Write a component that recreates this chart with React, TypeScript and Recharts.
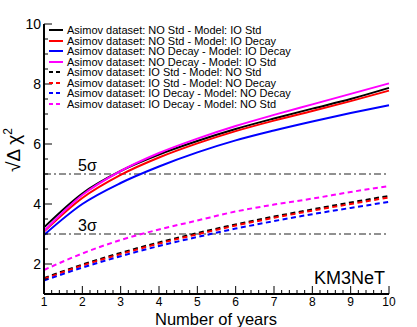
import React from "react";
import {
  LineChart,
  Line,
  XAxis,
  YAxis,
  ReferenceLine,
} from "recharts";

// Years on the x axis
const years = [1, 2, 3, 4, 5, 6, 7, 8, 9, 10];

// sqrt(Δχ²), one array per curve
const noStdIoStd = [3.22, 4.35, 5.1, 5.65, 6.1, 6.5, 6.85, 7.18, 7.5, 7.87];
const noStdIoDecay = [3.08, 4.2, 4.97, 5.55, 6.02, 6.43, 6.78, 7.1, 7.43, 7.78];
const noDecayIoDecay = [2.97, 4.0, 4.7, 5.25, 5.72, 6.12, 6.45, 6.75, 7.03, 7.29];
const noDecayIoStd = [3.1, 4.3, 5.1, 5.7, 6.18, 6.6, 6.97, 7.32, 7.67, 8.02];
const ioStdNoStd = [1.53, 1.98, 2.37, 2.72, 3.03, 3.32, 3.58, 3.82, 4.05, 4.27];
const ioStdNoDecay = [1.5, 1.95, 2.33, 2.68, 2.99, 3.28, 3.54, 3.78, 4.0, 4.22];
const ioDecayNoDecay = [1.45, 1.88, 2.26, 2.6, 2.9, 3.18, 3.43, 3.66, 3.87, 4.07];
const ioDecayNoStd = [1.8, 2.35, 2.8, 3.15, 3.45, 3.75, 3.98, 4.18, 4.4, 4.6];

// tick labels
const xLabels = [1, 2, 3, 4, 5, 6, 7, 8, 9, 10];
const yLabels = [2, 4, 6, 8, 10];

const xTicks: number[] = [];
for (let i = 0; i <= 45; i++) xTicks.push(Math.round((1 + i * 0.2) * 10) / 10);
const yTicks: number[] = [];
for (let i = 0; i <= 18; i++) yTicks.push(1 + i * 0.5);

const series = [
  { key: "a", name: "Asimov dataset: NO Std - Model: IO Std", values: noStdIoStd, color: "#000000", dashed: false },
  { key: "b", name: "Asimov dataset: NO Std - Model: IO Decay", values: noStdIoDecay, color: "#ff0000", dashed: false },
  { key: "c", name: "Asimov dataset: NO Decay - Model: IO Decay", values: noDecayIoDecay, color: "#0000ff", dashed: false },
  { key: "d", name: "Asimov dataset: NO Decay - Model: IO Std", values: noDecayIoStd, color: "#ff00ff", dashed: false },
  { key: "e", name: "Asimov dataset: IO Std - Model: NO Std", values: ioStdNoStd, color: "#000000", dashed: true },
  { key: "f", name: "Asimov dataset: IO Std - Model: NO Decay", values: ioStdNoDecay, color: "#ff0000", dashed: true },
  { key: "g", name: "Asimov dataset: IO Decay - Model: NO Decay", values: ioDecayNoDecay, color: "#0000ff", dashed: true },
  { key: "h", name: "Asimov dataset: IO Decay - Model: NO Std", values: ioDecayNoStd, color: "#ff00ff", dashed: true },
];

const data = years.map((year, i) => {
  const row: Record<string, number> = { year };
  series.forEach((s) => (row[s.key] = s.values[i]));
  return row;
});

const FONT = "'Liberation Sans', Arial, Helvetica, sans-serif";
const DASH = "5 3.5";

const isMajorX = (v: number) => xLabels.includes(v);
const isMajorY = (v: number) => Number.isInteger(v) && v % 2 === 0;

function BottomTick({ x, y, payload }: any) {
  const v = payload.value;
  const major = isMajorX(v);
  return (
    <g>
      <line x1={x} x2={x} y1={y} y2={y - (major ? 8 : 4)} stroke="#000" />
      {major && (
        <text x={x} y={y + 12} textAnchor="middle" fontSize={12} fontFamily={FONT} fill="#000">
          {v}
        </text>
      )}
    </g>
  );
}

function TopTick({ x, y, payload }: any) {
  const major = isMajorX(payload.value);
  return <line x1={x} x2={x} y1={y} y2={y + (major ? 8 : 4)} stroke="#000" />;
}

function LeftTick({ x, y, payload }: any) {
  const v = payload.value;
  const major = isMajorY(v);
  return (
    <g>
      <line x1={x} x2={x + (major ? 8 : 4)} y1={y} y2={y} stroke="#000" />
      {yLabels.includes(v) && (
        <text x={x - 3} y={y + 5} textAnchor="end" fontSize={14} fontFamily={FONT} fill="#000">
          {v}
        </text>
      )}
    </g>
  );
}

function RightTick({ x, y, payload }: any) {
  const major = isMajorY(payload.value);
  return <line x1={x} x2={x - (major ? 8 : 4)} y1={y} y2={y} stroke="#000" />;
}

function SigmaLabel({ viewBox, text }: any) {
  return (
    <text x={viewBox.x + 34} y={viewBox.y - 3} fontSize={16} fontFamily={FONT} fill="#000">
      {text}
    </text>
  );
}

function LegendBox() {
  return (
    <div
      style={{
        position: "absolute",
        left: 47,
        top: 25,
        fontFamily: FONT,
        fontSize: 11,
        lineHeight: "10.5px",
        color: "#000",
        pointerEvents: "none",
      }}
    >
      {series.map((s) => (
        <div key={s.key} style={{ display: "flex", alignItems: "center", height: 10.5, whiteSpace: "nowrap" }}>
          <svg width={17} height={10} style={{ marginRight: 3, flex: "none" }}>
            <line x1={2} x2={16} y1={5} y2={5} stroke={s.color} strokeWidth={2} strokeDasharray={s.dashed ? "4 3" : undefined} />
          </svg>
          <span>{s.name}</span>
        </div>
      ))}
    </div>
  );
}

export default function App() {
  return (
    <div style={{ position: "fixed", left: 0, top: 0, width: 417, height: 327, background: "#fff" }}>
      <LineChart width={417} height={327} data={data} margin={{ top: 24, right: 28, left: 0, bottom: 0 }}>
        <XAxis
          dataKey="year"
          type="number"
          domain={[1, 10]}
          ticks={xTicks}
          interval={0}
          height={33}
          tickSize={0}
          tickMargin={0}
          tickLine={false}
          tick={<BottomTick />}
          axisLine={{ stroke: "#000", strokeWidth: 2 }}
        />
        <XAxis
          xAxisId="top"
          orientation="top"
          dataKey="year"
          type="number"
          domain={[1, 10]}
          ticks={xTicks}
          interval={0}
          height={0}
          tickSize={0}
          tickMargin={0}
          tickLine={false}
          tick={<TopTick />}
          axisLine={{ stroke: "#000", strokeWidth: 2 }}
        />
        <YAxis
          type="number"
          domain={[1, 10]}
          ticks={yTicks}
          interval={0}
          width={44}
          tickSize={0}
          tickMargin={0}
          tickLine={false}
          tick={<LeftTick />}
          axisLine={{ stroke: "#000", strokeWidth: 2 }}
          allowDataOverflow
        />
        <YAxis
          yAxisId="right"
          orientation="right"
          type="number"
          domain={[1, 10]}
          ticks={yTicks}
          interval={0}
          width={0}
          tickSize={0}
          tickMargin={0}
          tickLine={false}
          tick={<RightTick />}
          axisLine={{ stroke: "#000", strokeWidth: 2 }}
        />

        <ReferenceLine y={5} stroke="#222" strokeDasharray="7 3 2 3" label={<SigmaLabel text="5σ" />} />
        <ReferenceLine y={3} stroke="#222" strokeDasharray="7 3 2 3" label={<SigmaLabel text="3σ" />} />

        {series.map((s) => (
          <Line
            key={s.key}
            dataKey={s.key}
            name={s.name}
            type="monotone"
            stroke={s.color}
            strokeWidth={2}
            strokeDasharray={s.dashed ? DASH : undefined}
            dot={false}
            activeDot={false}
            isAnimationActive={false}
          />
        ))}
      </LineChart>

      <LegendBox />

      <svg
        width={417}
        height={327}
        style={{ position: "absolute", left: 0, top: 0, pointerEvents: "none" }}
      >
        <text
          transform="translate(20,150) rotate(-90)"
          textAnchor="middle"
          fontSize={19}
          fontFamily={FONT}
          fill="#000"
        >
          √Δ χ<tspan fontSize={12} dy={-8}>2</tspan>
        </text>
        <text x={216} y={325} textAnchor="middle" fontSize={16.5} fontFamily={FONT} fill="#000">
          Number of years
        </text>
        <text x={385} y={284} textAnchor="end" fontSize={18} fontFamily={FONT} fill="#000">
          KM3NeT
        </text>
      </svg>
    </div>
  );
}
